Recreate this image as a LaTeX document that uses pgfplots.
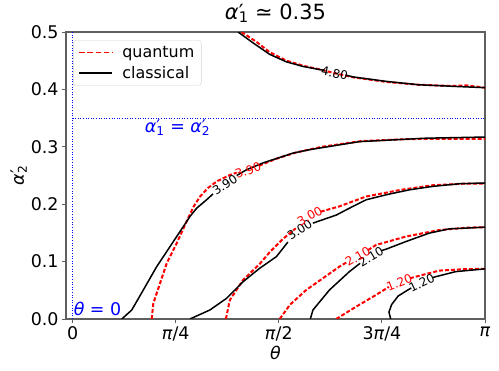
\documentclass[border=0pt]{standalone}
\usepackage{fontspec}
\setmainfont{DejaVu Sans}
\usepackage{pgfplots}
\pgfplotsset{compat=1.18}
\definecolor{spine}{RGB}{95,95,95}
\newcommand\ap[1]{\textit{α}\rlap{′}\textsubscript{#1}}
\pgfplotsset{
  cls/.style={black, line width=1.5bp, forget plot},
  qnt/.style={red, line width=2bp, dash pattern=on 4bp off 2bp, forget plot},
}
\tikzset{clab/.style={font=\fontsize{12}{14}\selectfont, inner sep=0pt}}
\begin{document}
\begin{tikzpicture}
\begin{axis}[
  scale only axis, width=419bp, height=287bp,
  xmin=-0.05, xmax=3.14159, ymin=0, ymax=0.5,
  xtick={0,0.785398,1.570796,2.356194,3.141593},
  xticklabels={0,\textit{π}/4,\textit{π}/2,3\textit{π}/4,\textit{π}},
  ytick={0,0.1,0.2,0.3,0.4,0.5},
  yticklabel style={/pgf/number format/.cd,fixed,fixed zerofill,precision=1,assume math mode=true},
  tick label style={font=\fontsize{17.5}{20}\selectfont},
  tick align=outside, tick pos=left, major tick length=4bp,
  every tick/.style={spine, line width=1bp},
  axis line style={spine, line width=1.3bp},
  xlabel={\textit{θ}},
  ylabel={\ap{2}},
  label style={font=\fontsize{17.5}{20}\selectfont},
  xlabel style={at={(axis description cs:0.5,-0.118)}, anchor=center},
  ylabel style={at={(axis description cs:-0.112,0.5)}, anchor=center},
  title={\ap{1} ≃ 0.35},
  title style={at={(axis description cs:0.5,1.024)}, anchor=base, font=\fontsize{21}{24}\selectfont},
  legend style={at={(axis description cs:0.017,0.972)}, anchor=north west,
    draw=gray!35, rounded corners=3bp, font=\fontsize{16}{19}\selectfont,
    inner xsep=5bp, inner ysep=4bp, row sep=3bp},
  legend cell align=left,
]
% reference lines
\addplot[blue, line width=0.9bp, dash pattern=on 1bp off 1.6bp, forget plot] coordinates {(0,0)(0,0.5)};
\addplot[blue, line width=0.9bp, dash pattern=on 1bp off 1.6bp, forget plot] coordinates {(0,0.35)(3.1416,0.35)};

% quantum contours
\addplot[qnt] coordinates {(1.287,0.5)(1.40,0.483)(1.50,0.465)(1.63,0.450)(1.76,0.441)(1.88,0.435)(2.0,0.428)(2.14,0.421)(2.39,0.413)(2.64,0.408)(2.9,0.406)(3.0,0.407)(3.1416,0.403)};
\addplot[qnt] coordinates {(0.603,0)(0.615,0.027)(0.666,0.062)(0.717,0.097)(0.793,0.132)(0.869,0.170)(0.92,0.195)(0.97,0.213)(1.03,0.228)(1.1,0.240)(1.2,0.251)(1.25,0.255)};
\addplot[qnt] coordinates {(1.42,0.267)(1.55,0.279)(1.7,0.290)(1.9,0.300)(2.2,0.310)(2.5,0.313)(2.7,0.314)(3.0,0.314)(3.1416,0.314)};
\addplot[qnt] coordinates {(1.168,0)(1.198,0.033)(1.299,0.068)(1.426,0.096)(1.50,0.116)(1.60,0.139)(1.70,0.158)};
\addplot[qnt] coordinates {(1.89,0.187)(2.03,0.196)(2.236,0.2134)(2.5,0.225)(2.742,0.233)(3.0,0.236)(3.1416,0.236)};
\addplot[qnt] coordinates {(1.578,0)(1.654,0.0244)(1.780,0.0506)(1.907,0.071)(2.033,0.0913)(2.09,0.099)};
\addplot[qnt] coordinates {(2.25,0.120)(2.312,0.129)(2.540,0.1437)(2.793,0.155)(3.0,0.159)(3.1416,0.160)};
\addplot[qnt] coordinates {(2.008,0)(2.160,0.0215)(2.312,0.042)(2.41,0.056)};
\addplot[qnt] coordinates {(2.57,0.071)(2.666,0.0768)(2.793,0.0843)(3.0,0.087)(3.1416,0.0873)};

% classical contours
\addplot[cls] coordinates {(1.261,0.5)(1.375,0.481)(1.502,0.461)(1.629,0.448)(1.755,0.440)(1.881,0.4346)(1.92,0.433)};
\addplot[cls] coordinates {(2.08,0.425)(2.135,0.4218)(2.388,0.414)(2.641,0.408)(2.894,0.4054)(3.1416,0.403)};
\addplot[cls] coordinates {(0.375,0)(0.451,0.0157)(0.539,0.0506)(0.641,0.0913)(0.742,0.126)(0.894,0.1785)(0.945,0.193)(1.021,0.2077)(1.07,0.218)};
\addplot[cls] coordinates {(1.25,0.250)(1.325,0.26)(1.451,0.272)(1.679,0.289)(1.806,0.295)(2.185,0.309)(2.692,0.315)(3.1416,0.317)};
\addplot[cls] coordinates {(0.894,0)(1.046,0.0157)(1.173,0.036)(1.299,0.065)(1.426,0.0885)(1.553,0.1087)(1.64,0.134)};
\addplot[cls] coordinates {(1.83,0.167)(2.008,0.181)(2.1,0.192)(2.236,0.2077)(2.4,0.217)(2.565,0.225)(2.742,0.231)(2.945,0.2356)(3.1416,0.237)};
\addplot[cls] coordinates {(1.811,0)(1.831,0.0157)(1.957,0.0506)(2.109,0.0826)(2.19,0.097)};
\addplot[cls] coordinates {(2.35,0.119)(2.388,0.1216)(2.540,0.135)(2.717,0.1496)(2.869,0.157)(3.1416,0.160)};
\addplot[cls] coordinates {(2.423,0)(2.410,0.012)(2.43,0.025)(2.48,0.040)(2.55,0.050)(2.58,0.054)};
\addplot[cls] coordinates {(2.74,0.072)(2.768,0.0738)(2.920,0.0826)(3.1416,0.0873)};

% contour labels
\node[clab, rotate=-12] at (axis cs:1.996,0.428) {4.80};
\node[clab, rotate=33] at (axis cs:1.160,0.234) {3.90};
\node[clab, red, rotate=20] at (axis cs:1.337,0.259) {3.90};
\node[clab, rotate=33] at (axis cs:1.730,0.155) {3.00};
\node[clab, red, rotate=30] at (axis cs:1.806,0.179) {3.00};
\node[clab, rotate=31] at (axis cs:2.274,0.108) {2.10};
\node[clab, red, rotate=30] at (axis cs:2.173,0.109) {2.10};
\node[clab, rotate=26] at (axis cs:2.660,0.063) {1.20};
\node[clab, red, rotate=22] at (axis cs:2.489,0.064) {1.20};

% annotations
\node[blue, font=\fontsize{17.5}{20}\selectfont] at (axis cs:0.80,0.333) {\ap{1} = \ap{2}};
\node[blue, anchor=south west, inner sep=1bp, font=\fontsize{17.5}{20}\selectfont] at (axis cs:0.0,0.003) {\textit{θ} = 0};

\addlegendimage{legend image code/.code={\draw[red, line width=1.7bp, dash pattern=on 5.5bp off 2.7bp] (0bp,0bp) -- (33bp,0bp); \path (41bp,0bp);}}
\addlegendentry{quantum}
\addlegendimage{legend image code/.code={\draw[black, line width=1.7bp] (0bp,0bp) -- (33bp,0bp); \path (41bp,0bp);}}
\addlegendentry{classical}
\end{axis}
\pgfresetboundingbox
\path[use as bounding box] (-66bp,-52bp) rectangle (433bp,319bp);
\end{tikzpicture}
\end{document}
